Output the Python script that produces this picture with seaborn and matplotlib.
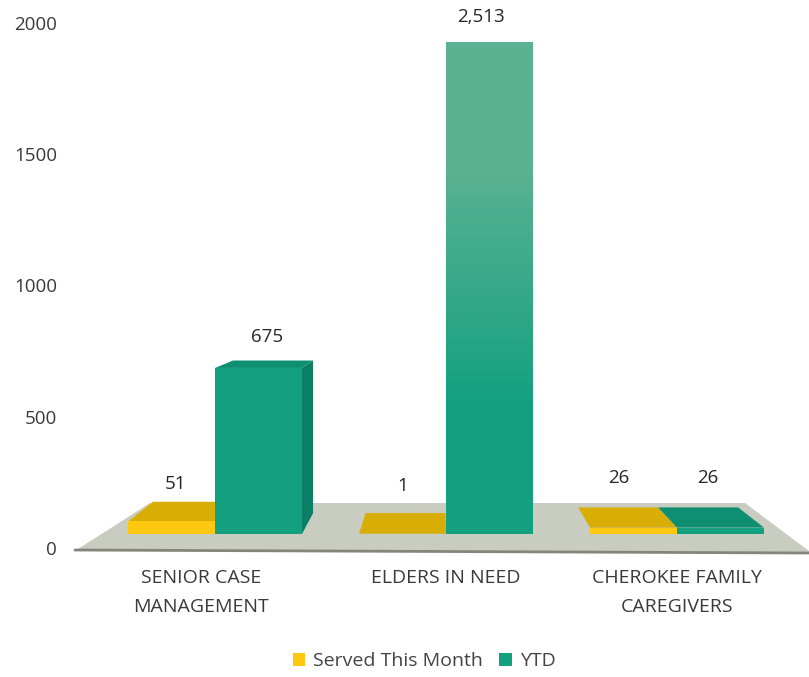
import pandas as pd
import seaborn as sns
import matplotlib
matplotlib.use('Agg')
import matplotlib.pyplot as plt
from matplotlib.colors import LinearSegmentedColormap
from matplotlib.patches import Polygon
from matplotlib.transforms import IdentityTransform, ScaledTranslation

# chart data
categories = ['SENIOR CASE\nMANAGEMENT', 'ELDERS IN NEED', 'CHEROKEE FAMILY\nCAREGIVERS']
served_this_month = [51, 1, 26]
ytd = [675, 2513, 26]
series_names = ['Served This Month', 'YTD']
y_ticks = [0, 500, 1000, 1500, 2000]

W, H = 809, 677
TEXT = '#3a3a3a'

# colours per series: front, top, side
FACES = {'Served This Month': ('#fdc80f', '#d8ae06', '#c49c05'),
         'YTD': ('#12a07f', '#0e8f72', '#0b7f66')}

sns.set_theme(style='white')
plt.rcParams['font.family'] = ['Open Sans', 'DejaVu Sans']

df = pd.DataFrame({'category': categories * 2,
                   'series': [series_names[0]] * 3 + [series_names[1]] * 3,
                   'value': served_this_month + ytd})

fig = plt.figure(figsize=(W / 100, H / 100), dpi=100)


def box(left, top, right, bottom):
    # pixel box (y from the top of the image) to figure fractions
    return [left / W, 1 - bottom / H, (right - left) / W, (bottom - top) / H]


# value axis sits on the front edge of the floor, the bars are further back
ax_ticks = fig.add_axes(box(60, 23, 800, 548))
ax_ticks.set_ylim(0, 2000)
ax_ticks.set_yticks(y_ticks)
ax_ticks.set_xticks([])
ax_ticks.tick_params(axis='y', length=0, pad=2, labelsize=13.5, labelcolor=TEXT)
sns.despine(ax=ax_ticks, left=True, bottom=True)

ax = fig.add_axes(box(99.5, 42, 792.5, 534))
ax.patch.set_alpha(0)
sns.barplot(data=df, x='category', y='value', hue='series', ax=ax, width=0.753, gap=0,
            palette={k: v[0] for k, v in FACES.items()}, saturation=1, linewidth=0, zorder=2)
ax.set_ylim(0, 2000)
ax.set_xlim(-0.5, 2.5)
ax.set_xlabel('')
ax.set_ylabel('')
ax.set_yticks([])
ax.tick_params(axis='x', length=0, pad=25, labelsize=14, labelcolor=TEXT)
sns.despine(ax=ax, left=True, bottom=True)


def px(x, y):
    return (x, H - y)


# floor
ident = IdentityTransform()
ax.add_patch(Polygon([px(78, 549), px(150, 503), px(745, 503), px(809, 551), px(809, 553)],
                     transform=ident, clip_on=False, facecolor='#c9ccc0', edgecolor='none', zorder=0.5))
ax.add_line(plt.Line2D([75, 809], [H - 550, H - 553], transform=ident, color='#85857c', lw=2,
                       clip_on=False, zorder=0.6))

# perspective: every depth edge runs part of the way to one vanishing point
VX, VY = 440, H - 275
K = 0.08


def back(x, y):
    return (x + K * (VX - x), y + K * (VY - y))


# the scan fades the clipped bar towards the top
fade = LinearSegmentedColormap.from_list('fade', ['#5bb292', '#12a07f'])

label_offsets = [[(4, 37), (0, 48), (-15, 50)], [(9, 31), (-9, 25), (-13, 50)]]
for s, (name, cont) in enumerate(zip(series_names, ax.containers)):
    front, top, side = FACES[name]
    for c, bar in enumerate(cont):
        h = min(bar.get_height(), 2000)
        x0, y0 = ax.transData.transform((bar.get_x(), 0))
        x1, y1 = ax.transData.transform((bar.get_x() + bar.get_width(), h))
        if bar.get_height() > 2000:
            ax.imshow([[0], [1]], cmap=fade, aspect='auto', interpolation='bilinear', zorder=2.5,
                      extent=(bar.get_x(), bar.get_x() + bar.get_width(), 0, 2000))
            # imshow takes over the limits
            ax.set_ylim(0, 2000)
            ax.set_xlim(-0.5, 2.5)
        if y1 < VY:
            ax.add_patch(Polygon([(x0, y1), (x1, y1), back(x1, y1), back(x0, y1)], transform=ident,
                                 clip_on=False, facecolor=top, edgecolor='none', zorder=1))
        # only the side facing the middle of the chart shows
        if x1 < VX:
            ax.add_patch(Polygon([(x1, y0), (x1, y1), back(x1, y1), back(x1, y0)], transform=ident,
                                 clip_on=False, facecolor=side, edgecolor='none', zorder=0.9))
        dx, dy = label_offsets[s][c]
        value = (served_this_month, ytd)[s][c]
        ax.annotate(f'{value:,}', ((x0 + x1) / 2 + dx, y1 + dy), xycoords=ident, ha='center', va='center',
                    fontsize=13.5, color='#262626', annotation_clip=False, zorder=5)

# x labels: wider line gap, first one sits left of its group
fig.canvas.draw()
for lab in ax.get_xticklabels():
    lab.set_linespacing(1.8)
first = ax.get_xticklabels()[0]
first.set_transform(first.get_transform() + ScaledTranslation(-14 / 100, 0, fig.dpi_scale_trans))

sns.move_legend(ax, 'center', bbox_to_anchor=(424 / W, 1 - 661 / H), bbox_transform=fig.transFigure,
                ncol=2, frameon=False, title=None, fontsize=14, labelcolor='#444444',
                handlelength=0.65, handleheight=0.65, handletextpad=0.4, columnspacing=0.85)

plt.savefig('out.png', dpi=100)
